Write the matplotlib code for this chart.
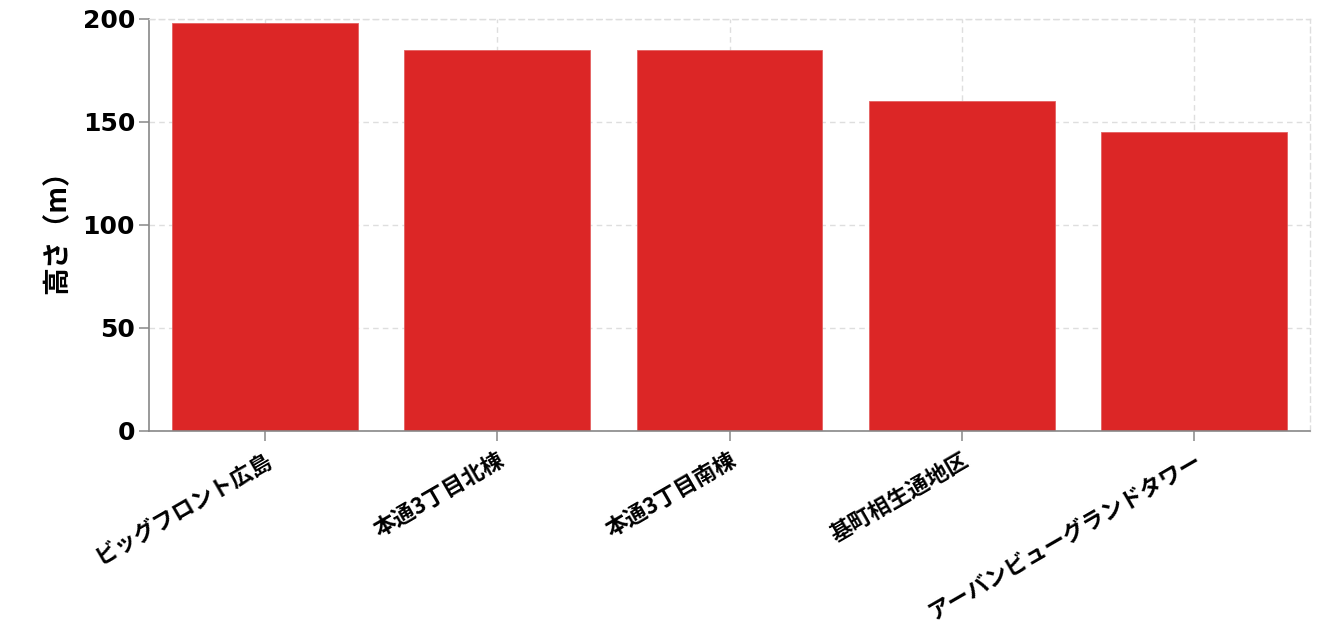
import matplotlib
matplotlib.use("Agg")
import matplotlib.pyplot as plt
import numpy as np

# ----------------------
# Data
# ----------------------
buildings = ['ビッグフロント広島', '本通3丁目北棟', '本通3丁目南棟',
             '基町相生通地区', 'アーバンビューグランドタワー']
heights = [198, 185, 185, 160, 145]
y_ticks = [0, 50, 100, 150, 200]

BAR_COLOR = '#dc2626'
GRID_COLOR = '#dedede'
AXIS_COLOR = '#888888'

JP_FONT = ['Noto Sans CJK JP', 'DejaVu Sans']
plt.rcParams['font.family'] = ['DejaVu Sans', 'Noto Sans CJK JP']


def plot_heights():
    fig = plt.figure(figsize=(13.3, 6.29), dpi=100)
    ax = fig.add_axes([0.112, 0.315, 0.873, 0.655])

    x = np.arange(len(buildings))
    ax.bar(x, heights, width=0.8, color=BAR_COLOR, edgecolor='#e46060',
           linewidth=0.6, zorder=2)

    ax.set_xlim(-0.5, len(buildings) - 0.5)
    ax.set_ylim(0, 200)
    ax.set_yticks(y_ticks)
    ax.set_yticklabels([str(t) for t in y_ticks], fontsize=18, fontweight='bold')
    ax.set_xticks(x)
    ax.set_xticklabels(buildings, fontsize=16, fontweight='bold', family=JP_FONT,
                       rotation=30, ha='right', rotation_mode='anchor')

    ax.set_ylabel('高さ（m）', fontsize=20, fontweight='bold',
                  family=JP_FONT, labelpad=8)

    # grid
    ax.grid(True, color=GRID_COLOR, linestyle=(0, (4, 3)), linewidth=1, zorder=0)
    ax.set_axisbelow(True)

    # spines
    for side in ['top', 'right']:
        ax.spines[side].set_color(GRID_COLOR)
        ax.spines[side].set_linestyle((0, (4, 3)))
        ax.spines[side].set_linewidth(1)
    for side in ['left', 'bottom']:
        ax.spines[side].set_color(AXIS_COLOR)
        ax.spines[side].set_linewidth(1.2)

    ax.tick_params(axis='both', length=7, width=1.1, color=AXIS_COLOR, pad=3)
    ax.tick_params(axis='x', pad=6)

    fig.savefig('out.png', dpi=100)


if __name__ == "__main__":
    plot_heights()
